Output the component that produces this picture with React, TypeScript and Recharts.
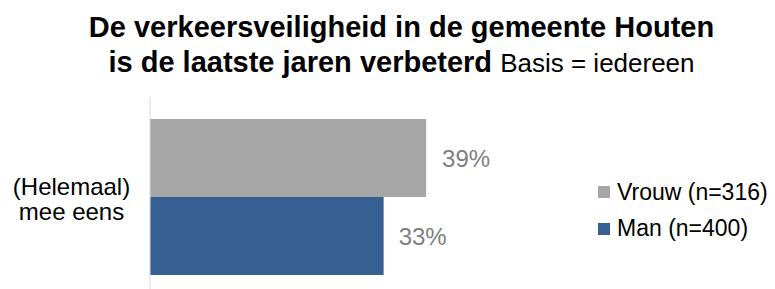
import { BarChart, Bar, XAxis, YAxis, LabelList } from 'recharts';

const categories = ['(Helemaal) mee eens'];
const vrouw = [39];
const man = [33];
const seriesNames = ['Vrouw (n=316)', 'Man (n=400)'];
const titleLine1 = 'De verkeersveiligheid in de gemeente Houten';
const titleLine2Bold = 'is de laatste jaren verbeterd';
const titleLine2Rest = 'Basis = iedereen';

const GRAY = '#A6A6A6';
const BLUE = '#376092';
const FONT = '"Liberation Sans", Arial, sans-serif';

const data = categories.map((c, i) => ({ cat: c, vrouw: vrouw[i], man: man[i] }));

const CategoryTick = ({ y }: any) => (
  <text x={71.5} y={y} textAnchor="middle" fontFamily={FONT} fontSize={24} fill="#000">
    <tspan x={71.5} dy={-1.5}>(Helemaal)</tspan>
    <tspan x={71.5} dy={25}>mee eens</tspan>
  </text>
);

export default function App() {
  return (
    <div style={{ position: 'relative', width: 775, height: 289, background: '#fff', overflow: 'hidden' }}>
      <style>{'body{margin:0}'}</style>
      <div
        style={{
          position: 'absolute', left: 0, top: 10, width: 775, textAlign: 'center',
          fontFamily: FONT, fontSize: 29, lineHeight: '35px', color: '#000', paddingLeft: 28,
          boxSizing: 'border-box', whiteSpace: 'nowrap',
        }}
      >
        <div style={{ fontWeight: 'bold' }}>{titleLine1}</div>
        <div>
          <span style={{ fontWeight: 'bold' }}>{titleLine2Bold}</span>{' '}
          <span style={{ fontSize: 26 }}>{titleLine2Rest}</span>
        </div>
      </div>
      <div style={{ position: 'absolute', left: 598, top: 174, fontFamily: FONT, fontSize: 23, color: '#000' }}>
        {[GRAY, BLUE].map((c, i) => (
          <div key={i} style={{ display: 'flex', alignItems: 'center', height: 36.5 }}>
            <span style={{ width: 12, height: 12, background: c, marginRight: 7, display: 'inline-block' }} />
            <span>{seriesNames[i]}</span>
          </div>
        ))}
      </div>
      <BarChart
        width={775}
        height={289}
        data={data}
        layout="vertical"
        margin={{ top: 97, right: 271, bottom: -7, left: 0 }}
        barCategoryGap={22}
        barGap={0}
      >
        <XAxis type="number" domain={[0, 50]} hide />
        <YAxis
          type="category"
          dataKey="cat"
          width={150}
          axisLine={{ stroke: '#D9D9D9', strokeWidth: 1 }}
          tickLine={false}
          tick={<CategoryTick />}
        />
        <Bar dataKey="vrouw" fill={GRAY} isAnimationActive={false}>
          <LabelList
            dataKey="vrouw"
            position="right"
            offset={16}
            formatter={(v: any) => `${v}%`}
            fill="#808080"
            fontSize={24}
            fontFamily={FONT}
          />
        </Bar>
        <Bar dataKey="man" fill={BLUE} isAnimationActive={false}>
          <LabelList
            dataKey="man"
            position="right"
            offset={15}
            formatter={(v: any) => `${v}%`}
            fill="#808080"
            fontSize={24}
            fontFamily={FONT}
          />
        </Bar>
      </BarChart>
    </div>
  );
}
